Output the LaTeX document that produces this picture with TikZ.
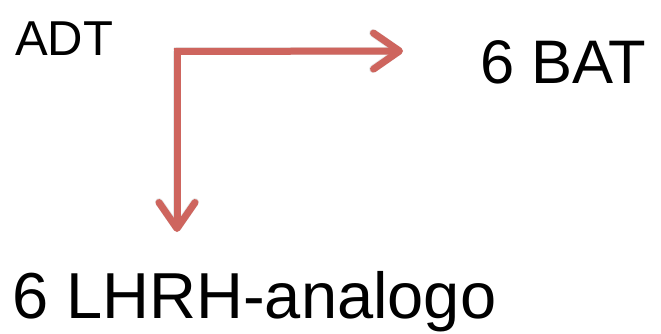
\documentclass[tikz,border=0pt]{standalone}
\usepackage{fontspec}
\setmainfont{Liberation Sans}
\usetikzlibrary{arrows.meta}
\definecolor{arrowred}{RGB}{206,101,94}
\tikzset{
  label/.style={inner sep=0pt, anchor=base west, text=black},
  flow/.style={draw=arrowred, line width=7pt,
    -{Straight Barb[length=26pt, width=36pt, line width=7pt, round]}},
  flowshadow/.style={draw=black!60, opacity=0.15, line width=8pt,
    -{Straight Barb[length=26pt, width=36pt, line width=8pt, round]}},
}
\begin{document}
\begin{tikzpicture}[x=1pt, y=-1pt]
  \useasboundingbox (0,0) rectangle (661,333);
  % labels
  \node[label, font=\fontsize{49}{49}\selectfont] (adt) at (15,55) {ADT};
  \node[label, font=\fontsize{61.5}{61.5}\selectfont] (bat) at (480,83) {6 BAT};
  \node[label, font=\fontsize{65}{65}\selectfont] (lhrh) at (12,318) {6 LHRH-analogo};
  % corner where the two branches split
  \coordinate (corner) at (177,51);
  \coordinate (batin) at (403,51);
  \coordinate (lhrhin) at (177,232);
  % soft drop shadow
  \begin{scope}[shift={(1.5,2.5)}]
    \draw[flowshadow] ([xshift=-3pt]corner) -- (batin);
    \draw[flowshadow] (corner) -- (lhrhin);
  \end{scope}
  % branches
  \draw[flow] ([xshift=-3pt,yshift=-0.5pt]corner) -- (batin);
  \draw[flow] (corner) -- (lhrhin);
\end{tikzpicture}
\end{document}
